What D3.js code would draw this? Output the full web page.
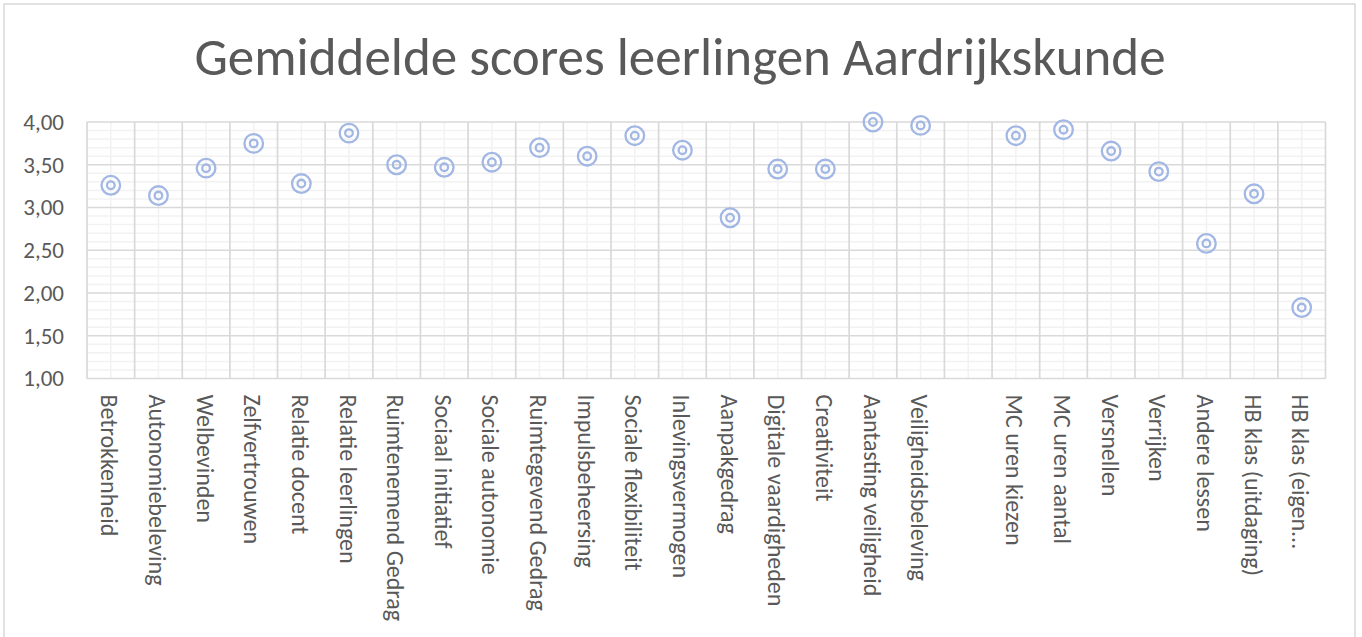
<!DOCTYPE html>
<html>
<head>
<meta charset="utf-8">
<script src="https://cdn.jsdelivr.net/npm/d3@7"></script>
<style>
  body { margin: 0; background: #fff; }
  text { font-family: Calibri, Carlito, Lato, sans-serif; fill: #595959; }
</style>
</head>
<body>
<div id="chart"></div>
<script>
const width = 1362, height = 637;
const margin = { top: 122, right: 36.5, bottom: 258.5, left: 87 };
const innerWidth = width - margin.left - margin.right;
const innerHeight = height - margin.top - margin.bottom;

const title = "Gemiddelde scores leerlingen Aardrijkskunde";

const categories = [
    "Betrokkenheid", "Autonomiebeleving", "Welbevinden", "Zelfvertrouwen",
    "Relatie docent", "Relatie leerlingen", "Ruimtenemend Gedrag", "Sociaal initiatief",
    "Sociale autonomie", "Ruimtegevend Gedrag", "Impulsbeheersing", "Sociale flexibiliteit",
    "Inlevingsvermogen", "Aanpakgedrag", "Digitale vaardigheden", "Creativiteit",
    "Aantasting veiligheid", "Veiligheidsbeleving", "", "MC uren kiezen",
    "MC uren aantal", "Versnellen", "Verrijken", "Andere lessen",
    "HB klas (uitdaging)", "HB klas (eigen..."
];

// null = no score for that slot
const scores = [
    3.26, 3.14, 3.46, 3.75,
    3.28, 3.87, 3.50, 3.47,
    3.53, 3.70, 3.60, 3.84,
    3.67, 2.88, 3.45, 3.45,
    4.00, 3.96, null, 3.84,
    3.91, 3.66, 3.42, 2.58,
    3.16, 1.83
];

const yTicks = [1.0, 1.5, 2.0, 2.5, 3.0, 3.5, 4.0];

const data = categories.map((c, i) => ({ key: i, label: c, value: scores[i] }));

const svg = d3.select("#chart").append("svg")
    .attr("width", width)
    .attr("height", height);

// outer chart border
svg.append("rect")
    .attr("x", 4).attr("y", 4)
    .attr("width", 1351).attr("height", 660)
    .attr("fill", "none")
    .attr("stroke", "#d9d9d9")
    .attr("stroke-width", 1.5);

svg.append("text")
    .attr("x", 680)
    .attr("y", 75)
    .attr("text-anchor", "middle")
    .style("font-size", "53px")
    .style("font-weight", 300)
    .text(title);

const innerChart = svg.append("g")
    .attr("transform", `translate(${margin.left}, ${margin.top})`);

const xScale = d3.scaleBand()
    .domain(data.map(d => d.key))
    .range([0, innerWidth]);

const yScale = d3.scaleLinear()
    .domain([1, 4])
    .range([innerHeight, 0]);

const centre = k => xScale(k) + xScale.bandwidth() / 2;

// minor horizontal gridlines every 0.1
const minorY = d3.range(11, 40).map(v => v / 10).filter(v => Math.round(v * 10) % 5 !== 0);
innerChart.append("g")
    .selectAll("line")
    .data(minorY)
    .join("line")
        .attr("x1", 0).attr("x2", innerWidth)
        .attr("y1", d => yScale(d)).attr("y2", d => yScale(d))
        .attr("stroke", "#f2f2f2")
        .attr("stroke-width", 1.5);

// minor vertical gridlines at category centres
innerChart.append("g")
    .selectAll("line")
    .data(data)
    .join("line")
        .attr("x1", d => centre(d.key)).attr("x2", d => centre(d.key))
        .attr("y1", 0).attr("y2", innerHeight)
        .attr("stroke", "#f2f2f2")
        .attr("stroke-width", 1.5);

// major horizontal gridlines
innerChart.append("g")
    .selectAll("line")
    .data(yTicks)
    .join("line")
        .attr("x1", 0).attr("x2", innerWidth)
        .attr("y1", d => yScale(d)).attr("y2", d => yScale(d))
        .attr("stroke", "#d9d9d9")
        .attr("stroke-width", 1.7);

// major vertical gridlines at category boundaries
innerChart.append("g")
    .selectAll("line")
    .data(d3.range(categories.length + 1))
    .join("line")
        .attr("x1", i => i * xScale.step()).attr("x2", i => i * xScale.step())
        .attr("y1", 0).attr("y2", innerHeight)
        .attr("stroke", "#d9d9d9")
        .attr("stroke-width", 1.7);

// y axis labels
innerChart.append("g")
    .call(d3.axisLeft(yScale)
        .tickValues(yTicks)
        .tickFormat(d => d3.format(".2f")(d).replace(".", ","))
        .tickSize(0)
        .tickPadding(23))
    .call(g => g.select(".domain").remove())
    .selectAll("text")
        .style("font-size", "23px")
        .attr("fill", "#595959");

// x axis labels, rotated
innerChart.append("g")
    .selectAll("text")
    .data(data)
    .join("text")
        .attr("transform", d => `translate(${centre(d.key) - 1}, ${innerHeight + 16}) rotate(90)`)
        .attr("dy", "0.35em")
        .style("font-size", "24px")
        .text(d => d.label);

// double-ring markers
const points = innerChart.append("g")
    .selectAll("g")
    .data(data.filter(d => d.value !== null))
    .join("g")
        .attr("transform", d => `translate(${centre(d.key)}, ${yScale(d.value)})`);

points.append("circle")
    .attr("r", 9.3)
    .attr("fill", "none")
    .attr("stroke", "#a2b7e4")
    .attr("stroke-width", 2.3);

points.append("circle")
    .attr("r", 3.8)
    .attr("fill", "none")
    .attr("stroke", "#a2b7e4")
    .attr("stroke-width", 2.3);
</script>
</body>
</html>
